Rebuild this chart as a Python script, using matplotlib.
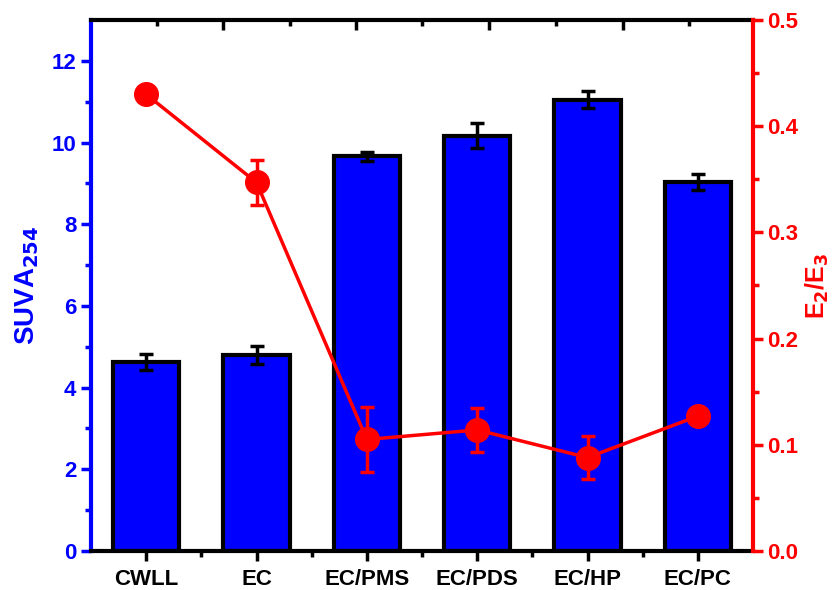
import matplotlib.pyplot as plt
import numpy as np

plt.rcParams['font.family'] = ['Liberation Sans', 'DejaVu Sans']
plt.rcParams['font.weight'] = 'bold'

# data
categories = ['CWLL', 'EC', 'EC/PMS', 'EC/PDS', 'EC/HP', 'EC/PC']
suva = [4.63, 4.80, 9.66, 10.17, 11.05, 9.04]
suva_err = [0.20, 0.23, 0.10, 0.30, 0.20, 0.20]
e2e3 = [0.430, 0.347, 0.105, 0.114, 0.088, 0.127]
e2e3_err = [0.0, 0.021, 0.031, 0.021, 0.020, 0.0]

x = np.arange(len(categories))

fig = plt.figure(figsize=(8.38, 5.9), dpi=100)
ax = fig.add_axes([91 / 838, 1 - 551 / 590, (753 - 91) / 838, (551 - 20) / 590])

ax.bar(x, suva, width=0.6, color='#0000ff', edgecolor='black', linewidth=3, zorder=2)
ax.errorbar(x, suva, yerr=suva_err, fmt='none', ecolor='black', elinewidth=2.5,
            capsize=5, capthick=2.5, zorder=3)
ax.set_xlim(-0.5, 5.5)
ax.set_ylim(0, 13)
ax.set_xticks(x)
ax.set_xticklabels(categories, fontsize=16, fontweight='bold')
ax.set_xticks(x[:-1] + 0.5, minor=True)
ax.set_yticks([0, 2, 4, 6, 8, 10, 12])
ax.set_yticks(np.arange(1, 13, 2), minor=True)
ax.tick_params(axis='y', colors='#0000ff', labelsize=16, width=2.5, length=7, direction='out')
ax.tick_params(axis='y', which='minor', colors='#0000ff', width=2.5, length=4)
ax.tick_params(axis='x', labelsize=16, width=2.5, length=7, direction='out', pad=6)
ax.tick_params(axis='x', which='minor', width=2.5, length=4)
ax.set_ylabel('SUVA$_{\\mathbf{254}}$', color='#0000ff', fontsize=20, fontweight='bold', labelpad=8)
ax.spines['left'].set_color('#0000ff')
ax.spines['left'].set_linewidth(3)
ax.spines['bottom'].set_linewidth(3)
ax.spines['top'].set_linewidth(3)
ax.spines['right'].set_visible(False)

ax2 = ax.twinx()
ax2.plot(x, e2e3, color='#ff0000', linewidth=2.5, marker='o', markersize=17, zorder=4)
ax2.errorbar(x, e2e3, yerr=e2e3_err, fmt='none', ecolor='#ff0000', elinewidth=2.5,
             capsize=5, capthick=2.5, zorder=4)
ax2.set_ylim(0, 0.5)
ax2.set_yticks([0.0, 0.1, 0.2, 0.3, 0.4, 0.5])
ax2.set_yticklabels(['0.0', '0.1', '0.2', '0.3', '0.4', '0.5'])
ax2.set_yticks(np.arange(0.05, 0.5, 0.1), minor=True)
ax2.tick_params(axis='y', colors='#ff0000', labelsize=16, width=2.5, length=7, direction='out')
ax2.tick_params(axis='y', which='minor', colors='#ff0000', width=2.5, length=4)
ax2.set_ylabel('E$_{\\mathbf{2}}$/E$_{\\mathbf{3}}$', color='#ff0000', fontsize=18,
               fontweight='bold', labelpad=4)
ax2.spines['right'].set_color('#ff0000')
ax2.spines['right'].set_linewidth(3)
for s in ['left', 'top', 'bottom']:
    ax2.spines[s].set_visible(False)

# inward ticks on the top frame
top = ax.secondary_xaxis('top')
top.set_xticks([0.7, 1.9, 3.11, 4.32])
top.set_xticks([0.1, 1.3, 2.5, 3.71, 4.92], minor=True)
top.tick_params(axis='x', direction='in', width=2.5, length=7, labeltop=False)
top.tick_params(axis='x', which='minor', direction='in', width=2.5, length=4)
top.spines['top'].set_visible(False)

fig.savefig('out.png', dpi=100)
